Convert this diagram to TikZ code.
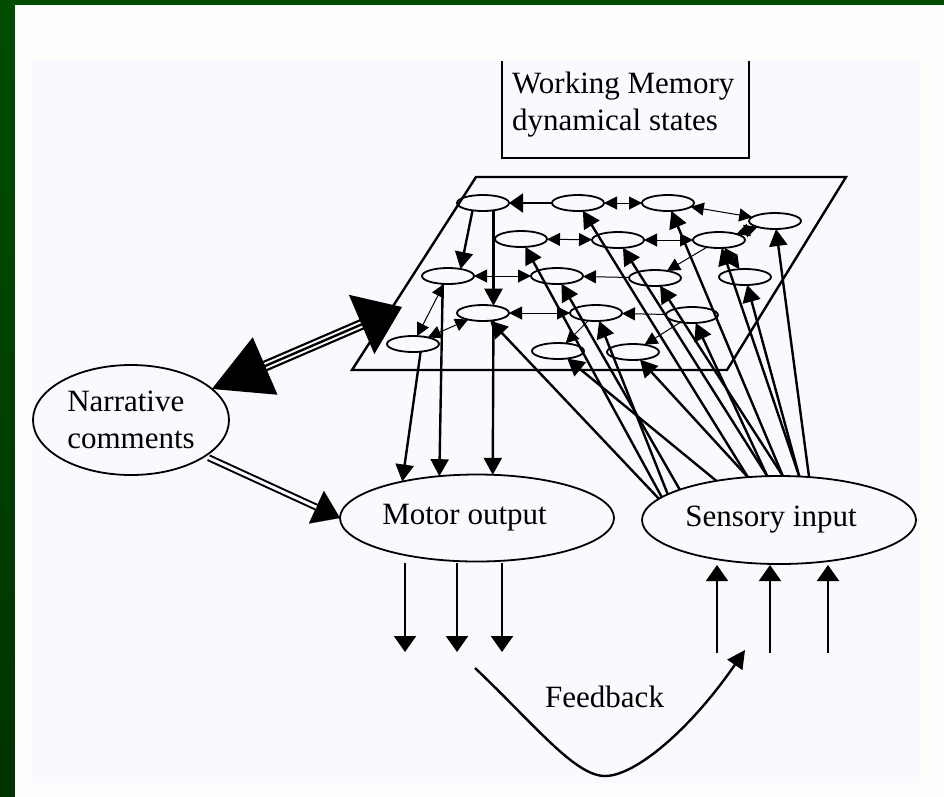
\documentclass[tikz,border=0pt]{standalone}
\usepackage{fontspec}
\setmainfont{Liberation Serif}
\usetikzlibrary{arrows.meta,shapes.geometric}

\definecolor{frameTop}{RGB}{0,77,0}
\definecolor{frameBot}{RGB}{0,51,0}
\definecolor{pagewhite}{RGB}{252,254,252}
\definecolor{paper}{RGB}{251,249,253}

\begin{document}
\begin{tikzpicture}[x=1pt,y=-1pt,
  lbl/.style={font=\fontsize{31}{37}\selectfont, inner sep=0pt},
  bigell/.style={draw, ellipse, line width=1.8pt, inner sep=0pt, outer sep=0pt,
                 font=\fontsize{31}{37}\selectfont},
  st/.style={draw, ellipse, line width=1.8pt, minimum width=52pt, minimum height=16pt,
             inner sep=0pt, outer sep=0pt},
  thk/.style={line width=2.4pt, -{Triangle[length=17pt,width=18pt]}},
  thn/.style={line width=1pt, {Triangle[length=13pt,width=13pt]}-{Triangle[length=13pt,width=13pt]}},
  thnone/.style={line width=1pt, -{Triangle[length=13pt,width=13pt]}},
  io/.style={line width=2.2pt, -{Triangle[length=16pt,width=22pt]}},
]
\useasboundingbox (0,0) rectangle (944,796);

% frame and paper
\shade[top color=frameTop, bottom color=frameBot] (0,0) rectangle (944,796);
\fill[pagewhite] (15,5) rectangle (950,802);
\fill[paper] (32,61) rectangle (920,783);

% working memory label box
\draw[line width=2pt] (502,61) -- (502,158) -- (749,158) -- (749,61);
\node[lbl, anchor=base west, align=left] (wm) at (512,130) {Working Memory\\dynamical states};

% state plane
\draw[line width=2.4pt, line join=miter] (476,177) -- (846,177) -- (727,370) -- (352,370) -- cycle;
\coordinate (plA) at (402,307);

% state units
\node[st] (e1) at (483,203) {};
\node[st] (e2) at (578,203) {};
\node[st] (e3) at (668,203) {};
\node[st] (e4) at (775,221) {};
\node[st] (e5) at (521,239) {};
\node[st] (e6) at (618,240) {};
\node[st] (e7) at (719,240) {};
\node[st] (e8) at (448,276) {};
\node[st] (e9) at (557,276) {};
\node[st] (e10) at (655,278) {};
\node[st] (e11) at (745,277) {};
\node[st] (e12) at (483,313) {};
\node[st] (e13) at (596,313) {};
\node[st] (e14) at (692,315) {};
\node[st] (e15) at (413,344) {};
\node[st] (e16) at (558,351) {};
\node[st] (e17) at (633,352) {};

% big ellipses
\node[bigell, minimum width=196pt, minimum height=110pt, align=left] (narr) at (131,420) {Narrative\\comments};
\node[bigell, minimum width=274pt, minimum height=87pt] (mot) at (477,518) {Motor output\hspace*{25pt}};
\node[bigell, minimum width=274pt, minimum height=88pt] (sens) at (779,520) {Sensory input\hspace*{16pt}};

% links inside the plane
\draw[line width=2pt, -{Triangle[length=14pt,width=19pt]}] (e2) -- (e1);
\draw[thn] (e2) -- (e3);
\draw[thn] (e3) -- (e4);
\draw[thn] (e5) -- (e6);
\draw[thn] (e6) -- (e7);
\draw[thn] (e7) -- (e4);
\draw[thn] (e8) -- (e9);
\draw[thnone] (e10) -- (e9);
\draw[thn] (e8) -- (e15);
\draw[thn] (e15) -- (e12);
\draw[thn] (e12) -- (e13);
\draw[thnone] (e14) -- (e13);
\draw[thnone] (e13) -- (e16);
\draw[thnone] (e7) -- (e10);
\draw[thn] (e7) -- (e11);
\draw[thnone] (e14) -- (e17);
\draw[thk] (e1.-145) -- (e8.29);
\draw[thk] (e1.-35) -- (e12.35);

% plane to motor output
\draw[thk] (e15.-45) -- (mot.154);
\draw[thk] (e8.-124) -- (mot.132);
\draw[thk] (e12.-35) -- (mot.70);

% sensory input to plane
\draw[thk] (sens.170) -- (e12);
\draw[thk] (sens.169) -- (e5);
\draw[thk] (sens.167) -- (e13);
\draw[thk] (sens.163) -- (e9);
\draw[thk] (sens.148) -- (e16);
\draw[thk] (sens.126) -- (e2);
\draw[thk] (sens.126) -- (e17);
\draw[thk] (sens.105) -- (e6);
\draw[thk] (sens.105) -- (e14);
\draw[thk] (sens.85) -- (e10);
\draw[thk] (sens.85) -- (e3);
\draw[thk] (sens.65) -- (e7);
\draw[thk] (sens.65) -- (e11);
\draw[thk] (sens.55) -- (e4);

% narrative <-> plane (triple shaft)
\draw[line width=11pt, shorten <=58pt, shorten >=42pt] (narr.21) -- (plA);
\draw[line width=6.5pt, paper, shorten <=58pt, shorten >=42pt] (narr.21) -- (plA);
\draw[line width=2.4pt, {Triangle[length=58pt,width=62pt]}-{Triangle[length=44pt,width=64pt]}] (narr.21) -- (plA);

% narrative -> motor output (double shaft)
\draw[line width=0.1pt, shorten <=4pt, -{Triangle[length=26pt,width=36pt]}] (narr.-26) -- (mot.180);
\draw[line width=7pt, shorten <=4pt, shorten >=26pt] (narr.-26) -- (mot.180);
\draw[line width=3pt, paper, shorten <=3pt, shorten >=26pt] (narr.-26) -- (mot.180);

% motor outputs
\coordinate (m1a) at (405,563); \coordinate (m1b) at (405,652);
\coordinate (m2a) at (457,563); \coordinate (m2b) at (457,652);
\coordinate (m3a) at (502,563); \coordinate (m3b) at (502,652);
\draw[io] (m1a) -- (m1b);
\draw[io] (m2a) -- (m2b);
\draw[io] (m3a) -- (m3b);

% sensory inputs
\coordinate (s1a) at (717,653); \coordinate (s1b) at (717,565);
\coordinate (s2a) at (770,653); \coordinate (s2b) at (770,565);
\coordinate (s3a) at (828,653); \coordinate (s3b) at (828,565);
\draw[io] (s1a) -- (s1b);
\draw[io] (s2a) -- (s2b);
\draw[io] (s3a) -- (s3b);

% feedback loop
\coordinate (fbA) at (475,668);
\coordinate (fbB) at (745,650);
\draw[line width=2.4pt, -{Triangle[length=18pt,width=18pt]}]
  (fbA) .. controls (535,725) and (575,776) .. (605,776)
        .. controls (635,776) and (690,730) .. (fbB);
\node[lbl, anchor=base west] (fb) at (545,707) {Feedback};
\end{tikzpicture}
\end{document}
